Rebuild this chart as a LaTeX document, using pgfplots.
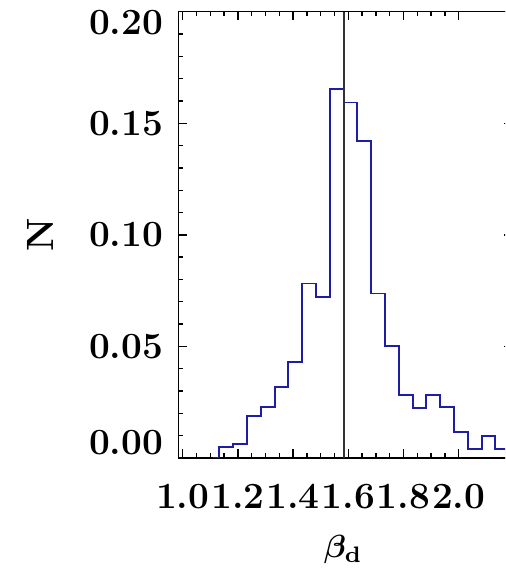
\documentclass[border=0pt]{standalone}
\usepackage{graphicx}
\usepackage{pgfplots}
\pgfplotsset{compat=1.18}
\definecolor{histblue}{RGB}{30,30,165}
\begin{document}
\begin{tikzpicture}
\useasboundingbox (0,0) rectangle (505pt,569pt);
\clip (0,0) rectangle (505pt,569pt);
\begin{axis}[
  at={(178.3pt,111pt)}, anchor=south west,
  scale only axis, width=333.7pt, height=446.3pt,
  xmin=0.984, xmax=2.193, ymin=0, ymax=0.2,
  xtick={1.0,1.2,1.4,1.6,1.8,2.0}, minor x tick num=3,
  ytick={0,0.05,0.1,0.15,0.2}, minor y tick num=4,
  tick align=inside, major tick length=8.5pt, minor tick length=4.5pt,
  axis line style={line width=1.6pt},
  tick style={black, line width=1.4pt},
  /pgf/number format/assume math mode=true,
  xticklabel style={font=\fontsize{37}{37}\selectfont\bfseries, inner sep=0pt, anchor=north, yshift=-26pt,
    /pgf/number format/.cd, fixed, fixed zerofill, precision=1},
  yticklabel style={font=\fontsize{37}{37}\selectfont\bfseries, inner sep=0pt, anchor=east, xshift=-15pt,
    /pgf/number format/.cd, fixed, fixed zerofill, precision=2},
  yticklabel={\ifnum\ticknum=0 \raisebox{15pt}[\height][\depth]{\pgfmathprintnumber{\tick}}\else\ifnum\ticknum=4 \raisebox{-11pt}[\height][\depth]{\pgfmathprintnumber{\tick}}\else\pgfmathprintnumber{\tick}\fi\fi},
  xlabel={\scalebox{3.2}{\boldmath$\beta_{\mathbf{d}}$}},
  xlabel style={at={(axis description cs:0.494,0)}, anchor=north, inner sep=0pt, yshift=-77pt},
  ylabel={N},
  ylabel style={at={(axis description cs:-0.4144,0.5)}, anchor=center, inner sep=0pt, font=\fontsize{38}{38}\selectfont\bfseries},
]
\addplot[const plot mark left, histblue, line width=1.9pt, mark=none] coordinates {
(1.108,0)
(1.133,0.0051)
(1.183,0.0061)
(1.233,0.0189)
(1.283,0.0230)
(1.333,0.0320)
(1.383,0.0431)
(1.433,0.0782)
(1.483,0.0722)
(1.533,0.1653)
(1.583,0.1593)
(1.633,0.1421)
(1.683,0.0737)
(1.733,0.0500)
(1.783,0.0283)
(1.833,0.0223)
(1.883,0.0283)
(1.933,0.0230)
(1.983,0.0118)
(2.033,0.0039)
(2.083,0.0099)
(2.133,0.0039)
(2.193,0.0039)
};
\addplot[black!80, line width=1.9pt, mark=none] coordinates {(1.583,0) (1.583,0.2)};
\end{axis}
\end{tikzpicture}
\end{document}
